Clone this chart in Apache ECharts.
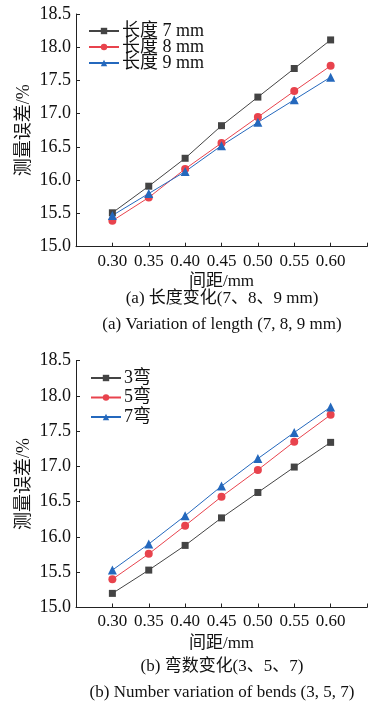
<!DOCTYPE html>
<html>
<head>
<meta charset="utf-8">
<script src="https://cdn.jsdelivr.net/npm/echarts@6/dist/echarts.min.js"></script>
<style>
html,body{margin:0;padding:0;background:#fff;}
#c{width:370px;height:709px;}
</style>
</head>
<body>
<div id="c"></div>
<script>
// ---- data ----
var spacing = [0.30, 0.35, 0.40, 0.45, 0.50, 0.55, 0.60];
var len7 = [15.51, 15.91, 16.33, 16.82, 17.25, 17.68, 18.11];
var len8 = [15.39, 15.74, 16.17, 16.56, 16.95, 17.34, 17.72];
var len9 = [15.47, 15.80, 16.13, 16.52, 16.87, 17.21, 17.55];
var bend3 = [15.20, 15.53, 15.88, 16.27, 16.63, 16.99, 17.34];
var bend5 = [15.40, 15.76, 16.16, 16.57, 16.95, 17.35, 17.73];
var bend7 = [15.53, 15.90, 16.30, 16.72, 17.11, 17.48, 17.84];
var namesA = ['长度 7 mm', '长度 8 mm', '长度 9 mm'];
var namesB = ['3弯', '5弯', '7弯'];
var yTicks = [15.0, 15.5, 16.0, 16.5, 17.0, 17.5, 18.0, 18.5];
var xTickLabels = ['0.30', '0.35', '0.40', '0.45', '0.50', '0.55', '0.60'];
var yName = '测量误差/%';
var xName = '间距/mm';
var capA1 = '(a) 长度变化(7、8、9 mm)';
var capA2 = '(a) Variation of length (7, 8, 9 mm)';
var capB1 = '(b) 弯数变化(3、5、7)';
var capB2 = '(b) Number variation of bends (3, 5, 7)';

var FONT = '"Liberation Serif", "Noto Sans CJK SC", serif';
var colors = ['#444444', '#e8434d', '#2468bd'];
var symbols = ['rect', 'circle', 'triangle'];
var symSizes = [7, 8, 9];

function pairs(ys) { return spacing.map(function (x, i) { return [x, ys[i]]; }); }

function xAxis(gi, gap) {
  return {
    type: 'value', gridIndex: gi, min: 0.25, max: 0.65, interval: 0.05,
    name: xName, nameLocation: 'middle', nameGap: gap, nameMoveOverlap: false,
    nameTextStyle: { fontFamily: FONT, fontSize: 17, color: '#111' },
    axisLine: { show: true, lineStyle: { color: '#222', width: 1 } },
    axisTick: { show: true, inside: true, length: 4, lineStyle: { color: '#222' } },
    axisLabel: {
      fontFamily: FONT, fontSize: 17, color: '#111', margin: 6,
      formatter: function (v) {
        var s = v.toFixed(2);
        return xTickLabels.indexOf(s) >= 0 ? s : '';
      }
    },
    splitLine: { show: false }
  };
}
function yAxis(gi) {
  return {
    type: 'value', gridIndex: gi, min: yTicks[0], max: yTicks[yTicks.length - 1], interval: 0.5,
    name: yName, nameLocation: 'middle', nameGap: 43, nameRotate: 90, nameMoveOverlap: false,
    nameTextStyle: { fontFamily: FONT, fontSize: 18, color: '#111' },
    axisLine: { show: true, lineStyle: { color: '#222', width: 1 } },
    axisTick: { show: true, inside: true, length: 4, lineStyle: { color: '#222' } },
    axisLabel: { fontFamily: FONT, fontSize: 18, color: '#111', margin: 5,
      formatter: function (v) { return v.toFixed(1); } },
    splitLine: { show: false }
  };
}
function series(name, ys, k, gi) {
  return {
    type: 'line', name: name, xAxisIndex: gi, yAxisIndex: gi,
    data: pairs(ys), symbol: symbols[k], symbolSize: symSizes[k],
    lineStyle: { color: colors[k], width: 1 },
    itemStyle: { color: colors[k] },
    animation: false
  };
}
function legend(names, left, top, gap) {
  return {
    data: names.map(function (n) { return { name: n }; }),
    orient: 'vertical', left: left, top: top, itemWidth: 30, itemHeight: 8, itemGap: gap,
    textStyle: { fontFamily: FONT, fontSize: 18, color: '#111', lineHeight: 16, padding: [0, 0, 0, -2] },
    padding: 0
  };
}

var chart = echarts.init(document.getElementById('c'), null, { renderer: 'canvas' });
chart.setOption({
  animation: false,
  grid: [
    { left: 76, top: 14, width: 292, height: 232.7 },
    { left: 76, top: 360.5, width: 292, height: 247 }
  ],
  xAxis: [xAxis(0, 26), xAxis(1, 28)],
  yAxis: [yAxis(0), yAxis(1)],
  legend: [legend(namesA, 88, 22, -2), legend(namesB, 90, 369, 1.5)],
  series: [
    series(namesA[0], len7, 0, 0), series(namesA[1], len8, 1, 0), series(namesA[2], len9, 2, 0),
    series(namesB[0], bend3, 0, 1), series(namesB[1], bend5, 1, 1), series(namesB[2], bend7, 2, 1)
  ],
  graphic: [
    { type: 'text', x: 222, y: 299, style: { text: capA1, align: 'center', verticalAlign: 'middle', fill: '#111', font: '17px ' + FONT } },
    { type: 'text', x: 222, y: 325, style: { text: capA2, align: 'center', verticalAlign: 'middle', fill: '#111', font: '17px ' + FONT } },
    { type: 'text', x: 222, y: 667, style: { text: capB1, align: 'center', verticalAlign: 'middle', fill: '#111', font: '17px ' + FONT } },
    { type: 'text', x: 222, y: 693, style: { text: capB2, align: 'center', verticalAlign: 'middle', fill: '#111', font: '17px ' + FONT } }
  ]
});
</script>
</body>
</html>
